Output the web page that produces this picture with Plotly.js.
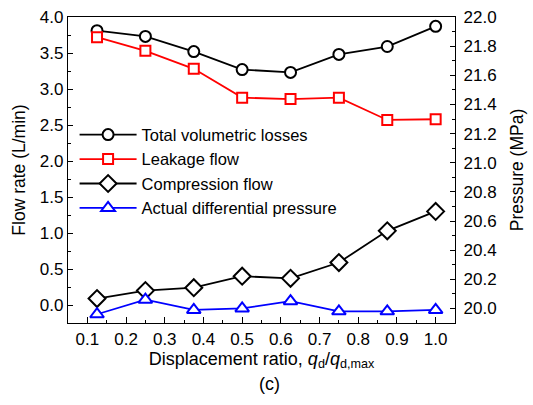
<!DOCTYPE html>
<html>
<head>
<meta charset="utf-8">
<script src="https://cdn.plot.ly/plotly-3.0.1.min.js"></script>
<style>html,body{margin:0;padding:0;background:#fff;}#chart{width:533px;height:405px;}</style>
</head>
<body>
<div id="chart"></div>
<script>
const ratio = [0.125, 0.25, 0.375, 0.5, 0.625, 0.75, 0.875, 1.0];
const totalLosses = [3.81, 3.73, 3.52, 3.27, 3.23, 3.48, 3.59, 3.87];
const leakageFlow = [3.72, 3.53, 3.28, 2.88, 2.86, 2.88, 2.57, 2.58];
const compressionFlow = [0.09, 0.20, 0.24, 0.40, 0.37, 0.59, 1.03, 1.30];
const diffPressure = [19.96, 20.06, 19.99, 20.00, 20.05, 19.98, 19.98, 19.99];
const names = ["Total volumetric losses", "Leakage flow", "Compression flow", "Actual differential pressure"];

const font = "Liberation Sans, Arial, sans-serif";
const traces = [
  {x: ratio, y: totalLosses, name: names[0], mode: "lines+markers", yaxis: "y",
   line: {color: "#000", width: 1.8},
   marker: {symbol: "circle", size: 11, color: "#fff", line: {width: 2, color: "#000"}}},
  {x: ratio, y: leakageFlow, name: names[1], mode: "lines+markers", yaxis: "y",
   line: {color: "#ff0000", width: 1.8},
   marker: {symbol: "square", size: 10, color: "#fff", line: {width: 2, color: "#ff0000"}}},
  {x: ratio, y: compressionFlow, name: names[2], mode: "lines+markers", yaxis: "y",
   line: {color: "#000", width: 1.8},
   marker: {symbol: "diamond", size: 13, color: "#fff", line: {width: 2, color: "#000"}}},
  {x: ratio, y: diffPressure, name: names[3], mode: "lines+markers", yaxis: "y2",
   line: {color: "#0000ff", width: 1.8},
   marker: {symbol: "triangle-up", size: 12, color: "#fff", line: {width: 2, color: "#0000ff"}}}
];

const layout = {
  width: 533, height: 405,
  margin: {l: 68, r: 78, t: 17, b: 82},
  paper_bgcolor: "#fff", plot_bgcolor: "#fff",
  font: {family: font, size: 17, color: "#000"},
  showlegend: true,
  legend: {x: 0.017, y: 0.672, xanchor: "left", yanchor: "top", bgcolor: "rgba(0,0,0,0)",
           font: {family: font, size: 16.5, color: "#000"}, itemwidth: 57, itemsizing: "trace", tracegroupgap: 0},
  xaxis: {range: [0.05, 1.05], dtick: 0.1, tick0: 0.1, tickformat: ".1f",
          ticks: "inside", ticklen: 6, tickwidth: 1, tickcolor: "#000",
          showline: true, linecolor: "#000", linewidth: 1.2, mirror: true,
          showgrid: false, zeroline: false,
          minor: {ticks: "inside", ticklen: 3, dtick: 0.05, tickcolor: "#000"},
          tickfont: {family: font, size: 17},
          title: {text: "Displacement ratio, <i>q</i><sub>d</sub>/<i>q</i><sub>d,max</sub>", font: {family: font, size: 18}, standoff: 4}},
  yaxis: {range: [-0.25, 4.0], dtick: 0.5, tick0: 0, tickformat: ".1f",
          ticks: "inside", ticklen: 5, tickwidth: 1, tickcolor: "#000",
          showline: true, linecolor: "#000", linewidth: 1.2,
          showgrid: false, zeroline: false,
          minor: {ticks: "inside", ticklen: 3, dtick: 0.25, tickcolor: "#000"},
          tickfont: {family: font, size: 17},
          title: {text: "Flow rate (L/min)", font: {family: font, size: 17.5}, standoff: 9}},
  yaxis2: {range: [19.9, 22.0], dtick: 0.2, tick0: 20, tickformat: ".1f", overlaying: "y", side: "right",
          ticks: "inside", ticklen: 5, tickwidth: 1, tickcolor: "#000",
          showline: true, linecolor: "#000", linewidth: 1.2,
          showgrid: false, zeroline: false, ticklabelstandoff: 4,
          minor: {ticks: "inside", ticklen: 3, dtick: 0.1, tickcolor: "#000"},
          tickfont: {family: font, size: 17},
          title: {text: "Pressure (MPa)", font: {family: font, size: 17.5}, standoff: 15}},
  annotations: [{text: "(c)", xref: "paper", yref: "paper", x: 0.52, y: -0.2, xanchor: "center", yanchor: "middle",
                 showarrow: false, font: {family: font, size: 18, color: "#000"}}]
};

Plotly.newPlot("chart", traces, layout, {displayModeBar: false, staticPlot: true});
</script>
</body>
</html>
